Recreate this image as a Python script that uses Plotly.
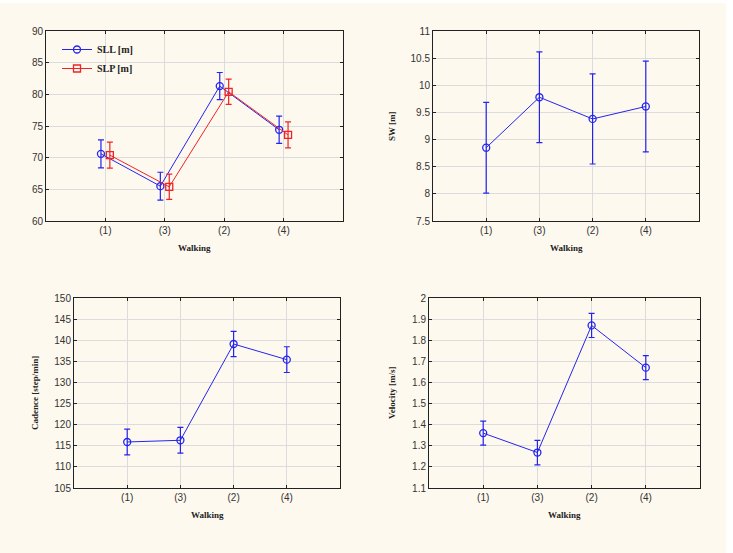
import plotly.graph_objects as go

categories = ["(1)", "(3)", "(2)", "(4)"]
xpos = [1, 2, 3, 4]

sll_mean = [70.6, 65.5, 81.3, 74.4]
sll_err = [2.2, 2.2, 2.15, 2.15]
slp_mean = [70.4, 65.4, 80.4, 73.6]
slp_err = [2.05, 2.0, 2.0, 2.05]

sw_mean = [8.85, 9.78, 9.38, 9.61]
sw_err = [0.835, 0.835, 0.83, 0.835]

cad_mean = [115.9, 116.3, 139.1, 135.4]
cad_err = [3.05, 3.05, 3.0, 3.05]

vel_mean = [1.36, 1.268, 1.87, 1.67]
vel_err = [0.057, 0.058, 0.057, 0.057]

BLUE = "#2424F0"
RED = "#F02424"
CREAM = "#FEF9EE"
TICKFONT = dict(family="Liberation Sans, Arial, sans-serif", size=10, color="#333333")
TITLEFONT = dict(family="Liberation Serif, Times New Roman, serif", size=9, color="#222222")

fig = go.Figure()


def add_series(x, y, err, color, symbol, name, xa, ya, showlegend=False, offset=0.0):
    fig.add_trace(go.Scatter(
        x=[v + offset for v in x], y=y, mode="lines+markers", name=name,
        xaxis=xa, yaxis=ya, showlegend=showlegend,
        line=dict(color=color, width=1),
        marker=dict(symbol=symbol, size=7, color=color, line=dict(color=color, width=1.3)),
        error_y=dict(type="data", array=err, visible=True, color=color, thickness=1.2, width=3),
    ))


add_series(xpos, sll_mean, sll_err, BLUE, "circle-open", "<b>SLL [m]</b>", "x", "y", True, -0.075)
add_series(xpos, slp_mean, slp_err, RED, "square-open", "<b>SLP [m]</b>", "x", "y", True, 0.075)
add_series(xpos, sw_mean, sw_err, BLUE, "circle-open", "SW", "x2", "y2")
add_series(xpos, cad_mean, cad_err, BLUE, "circle-open", "Cadence", "x3", "y3")
add_series(xpos, vel_mean, vel_err, BLUE, "circle-open", "Velocity", "x4", "y4")


def xaxis(domain, anchor):
    return dict(domain=domain, anchor=anchor, range=[0, 5], tickvals=xpos, ticktext=categories,
                showgrid=True, gridcolor="#DCDCDC", gridwidth=1, zeroline=False, automargin=False,
                showline=True, linecolor="#222222", linewidth=1, mirror="ticks",
                ticks="inside", ticklen=3, tickcolor="#222222", tickfont=TICKFONT)


def yaxis(domain, anchor, rng, dtick):
    return dict(domain=domain, anchor=anchor, range=rng, dtick=dtick, tick0=rng[0],
                showgrid=True, gridcolor="#DCDCDC", gridwidth=1, zeroline=False, automargin=False,
                showline=True, linecolor="#222222", linewidth=1, mirror="ticks",
                ticks="inside", ticklen=3, tickcolor="#222222", tickfont=TICKFONT)


W, H = 733, 553
def px(a, b):
    return [a / W, b / W]
def py(top, bottom):
    return [1 - bottom / H, 1 - top / H]

panels = [
    # (xleft, xright, ytop, ybottom, ytitle, ytitle_x)
    (46, 343, 31, 221, None, None),
    (433, 699, 31, 221, "SW [m]", 392),
    (74, 340, 298, 488, "Cadence [step/min]", 35),
    (429, 700, 298, 488, "Velocity [m/s]", 392),
]

annotations = []
for (xl, xr, yt, yb, yt_text, yt_x) in panels:
    annotations.append(dict(text="<b>Walking</b>", xref="paper", yref="paper",
                            x=(xl + xr) / 2 / W, y=1 - (yb + 27) / H, xanchor="center", yanchor="middle",
                            showarrow=False, font=TITLEFONT))
    if yt_text:
        annotations.append(dict(text="<b>" + yt_text + "</b>", xref="paper", yref="paper",
                                x=yt_x / W, y=1 - (yt + yb) / 2 / H, xanchor="center", yanchor="middle",
                                textangle=-90, showarrow=False, font=TITLEFONT))

fig.update_layout(
    width=W, height=H,
    margin=dict(l=0, r=0, t=0, b=0),
    paper_bgcolor="white", plot_bgcolor="white",
    xaxis=xaxis(px(46, 343), "y"),
    yaxis=yaxis(py(31, 221), "x", [60, 90], 5),
    xaxis2=xaxis(px(433, 699), "y2"),
    yaxis2=yaxis(py(31, 221), "x2", [7.5, 11], 0.5),
    xaxis3=xaxis(px(74, 340), "y3"),
    yaxis3=yaxis(py(298, 488), "x3", [105, 150], 5),
    xaxis4=xaxis(px(429, 700), "y4"),
    yaxis4=yaxis(py(298, 488), "x4", [1.1, 2.0], 0.1),
    annotations=annotations,
    legend=dict(x=57 / W, y=1 - 35 / H, xanchor="left", yanchor="top", bgcolor="rgba(0,0,0,0)",
                font=dict(family="Liberation Serif, Times New Roman, serif", size=10, color="#222222"),
                tracegroupgap=0, itemwidth=30),
    showlegend=True,
    shapes=[dict(type="rect", xref="paper", yref="paper", x0=0, x1=726 / W, y0=0, y1=1 - 3 / H,
                 fillcolor=CREAM, line=dict(width=0), layer="below")],
)

fig.write_html("out.html", config={"displayModeBar": False},
               post_script="document.body.style.margin='0';")
